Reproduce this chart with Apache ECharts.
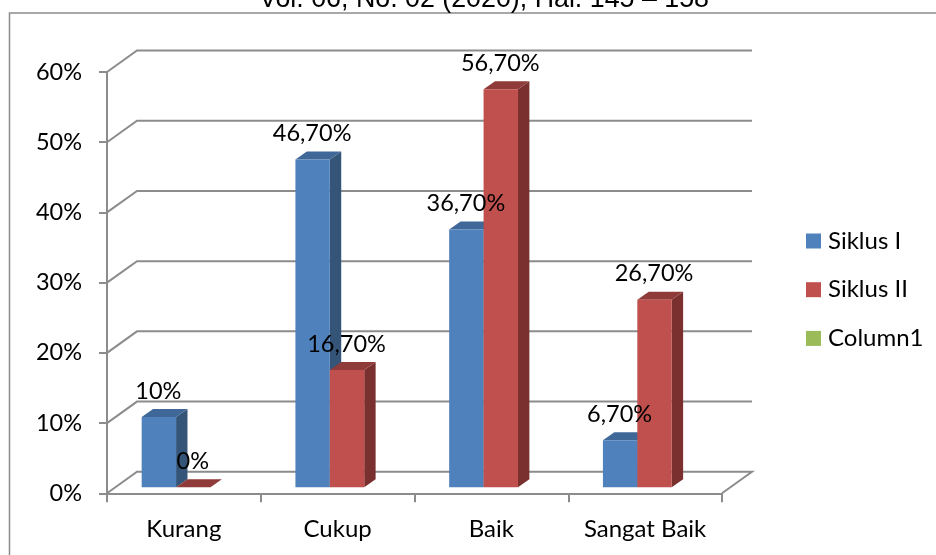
<!DOCTYPE html>
<html><head><meta charset="utf-8">
<style>html,body{margin:0;padding:0;background:#fff}#c{width:936px;height:555px}</style>
<script src="https://cdn.jsdelivr.net/npm/echarts@6/dist/echarts.min.js"></script>
</head><body><div id="c"></div>
<script>
const pageTitle = 'Vol. 06, No. 02 (2020), Hal. 145 – 158';
const categories = ['Kurang', 'Cukup', 'Baik', 'Sangat Baik'];
const siklusI = [10, 46.7, 36.7, 6.7];
const siklusII = [0, 16.7, 56.7, 26.7];
const labelsI = ['10%', '46,70%', '36,70%', '6,70%'];
const labelsII = ['0%', '16,70%', '56,70%', '26,70%'];
const yTicks = [0, 10, 20, 30, 40, 50, 60];

const GRAY = '#8c8c8c', FONT = 'Lato';
const WALL_DX = 30, WALL_DY = -21.5, DEPTH_DX = 11.4, DEPTH_DY = -8;
const BAR_W = 34.4, BASE_LIFT = 6, PAIR_SHIFT = -7.8;

function wallItem(params, api) {
  const left = api.coord([0, api.value(0)]);
  const size = api.size([1, 0])[0];
  const x0 = left[0] - size / 2, y = left[1];
  const x1 = x0 + size * categories.length;
  const pts = [[x0, y], [x0 + WALL_DX, y + WALL_DY], [x1 + WALL_DX, y + WALL_DY]];
  if (api.value(0) === 0) pts.push([x1, y]);
  return { type: 'polyline', shape: { points: pts }, style: { stroke: GRAY, lineWidth: 2, fill: null } };
}
function barRenderer(seriesIdx, labels, front, side, top) {
  return function (params, api) {
    const i = api.value(0), v = api.value(1);
    const c = api.coord([i, v]), b = api.coord([i, 0]);
    const xl = c[0] + PAIR_SHIFT + (seriesIdx - 1) * BAR_W, xr = xl + BAR_W;
    const yt = c[1] - BASE_LIFT, yb = b[1] - BASE_LIFT;
    const poly = (points, fill) => ({ type: 'polygon', shape: { points }, style: { fill } });
    return { type: 'group', children: [
      poly([[xr, yt], [xr + DEPTH_DX, yt + DEPTH_DY], [xr + DEPTH_DX, yb + DEPTH_DY], [xr, yb]], side),
      poly([[xl, yt], [xl + DEPTH_DX, yt + DEPTH_DY], [xr + DEPTH_DX, yt + DEPTH_DY], [xr, yt]], top),
      { type: 'rect', shape: { x: xl, y: yt, width: BAR_W, height: yb - yt }, style: { fill: front } },
      { type: 'text', z2: 100, style: { text: labels[i], x: (xl + xr) / 2 - 0.5, y: yt - 26, align: 'center', verticalAlign: 'middle', font: '23.5px ' + FONT, fill: '#000' } }
    ] };
  };
}
const chart = echarts.init(document.getElementById('c'), null, { renderer: 'canvas' });
chart.setOption({
  animation: false,
  backgroundColor: '#fff',
  title: { text: pageTitle, left: 484, textAlign: 'center', top: -14, padding: 0, textStyle: { fontFamily: 'Liberation Sans', fontSize: 26.8, fontWeight: 'normal', color: '#000' } },
  graphic: [{ type: 'rect', silent: true, z: -1, shape: { x: 9.5, y: 13, width: 1000, height: 1000 }, style: { fill: null, stroke: GRAY, lineWidth: 1.5 } }],
  grid: { left: 107, right: 214, top: 72, bottom: 61.7 },
  legend: {
    orient: 'vertical', left: 806, top: 229, padding: 0, itemWidth: 15, itemHeight: 15, itemGap: 24.7,
    icon: 'rect',
    data: ['Siklus I', 'Siklus II', 'Column1'],
    textStyle: { fontFamily: FONT, fontSize: 24, color: '#000', padding: [0, 0, 0, 2] }
  },
  xAxis: { type: 'category', data: categories, boundaryGap: true,
    axisLine: { show: true, lineStyle: { color: GRAY, width: 2 } },
    axisTick: { show: true, interval: 0, alignWithLabel: false, length: 9, lineStyle: { color: GRAY, width: 2 } },
    axisLabel: { interval: 0, hideOverlap: false, fontFamily: FONT, fontSize: 24, color: '#000', margin: 24 } },
  yAxis: { type: 'value', min: 0, max: 60, interval: 10,
    splitLine: { show: false },
    axisLine: { show: true, lineStyle: { color: GRAY, width: 2 } },
    axisTick: { show: true, length: 8, lineStyle: { color: GRAY, width: 2 } },
    axisLabel: { formatter: '{value}%', fontFamily: FONT, fontSize: 23.5, color: '#000', margin: 25, padding: [8, 0, 0, 0] } },
  series: [
    { type: 'custom', name: 'walls', silent: true, z: 1, data: yTicks.map(v => [v]), encode: { y: 0 }, renderItem: wallItem },
    { type: 'custom', name: 'Siklus I', z: 2, itemStyle: { color: '#4F81BD' }, encode: { x: 0, y: 1 },
      data: siklusI.map((v, i) => [i, v]), renderItem: barRenderer(0, labelsI, '#4F81BD', '#345478', '#3F6797') },
    { type: 'custom', name: 'Siklus II', z: 2, itemStyle: { color: '#C0504D' }, encode: { x: 0, y: 1 },
      data: siklusII.map((v, i) => [i, v]), renderItem: barRenderer(1, labelsII, '#C0504D', '#7A302E', '#8F3B39') },
    { type: 'custom', name: 'Column1', z: 2, itemStyle: { color: '#9BBB59' }, data: [], renderItem: () => null }
  ]
});
</script></body></html>
